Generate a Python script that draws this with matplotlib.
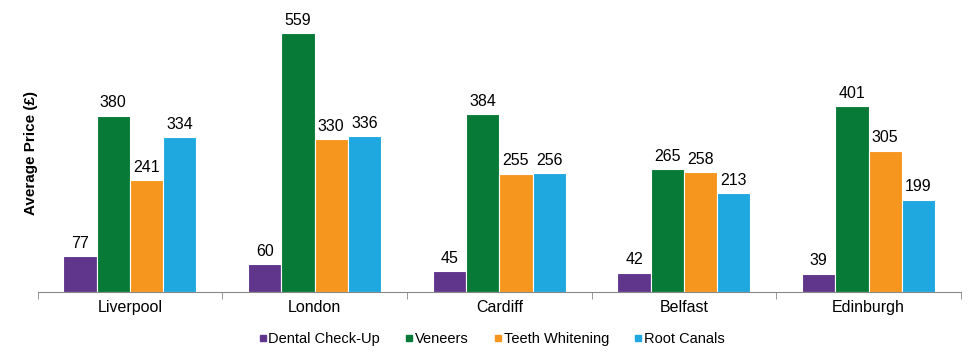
import matplotlib
matplotlib.use("Agg")
import matplotlib.pyplot as plt
import numpy as np
from matplotlib.lines import Line2D

plt.rcParams['font.family'] = ['Liberation Sans', 'DejaVu Sans']

cities = ["Liverpool", "London", "Cardiff", "Belfast", "Edinburgh"]
series_names = ["Dental Check-Up", "Veneers", "Teeth Whitening", "Root Canals"]
checkup = [77, 60, 45, 42, 39]
veneers = [380, 559, 384, 265, 401]
whitening = [241, 330, 255, 258, 305]
root_canals = [334, 336, 256, 213, 199]
colors = ["#60368C", "#077A38", "#F7961E", "#1FA8E0"]

data = [checkup, veneers, whitening, root_canals]

fig = plt.figure(figsize=(9.76, 3.6), dpi=100)
ax = fig.add_axes([0.0385, 0.1889, 0.9461, 0.772])

x = np.arange(len(cities))
w = 0.18
for i, (vals, c, name) in enumerate(zip(data, colors, series_names)):
    pos = x + (i - 1.5) * w
    bars = ax.bar(pos, vals, width=w, color=c, edgecolor="white", linewidth=0.8, label=name)
    for b, v in zip(bars, vals):
        ax.text(b.get_x() + b.get_width() / 2, v + 12, str(v), ha="center", va="bottom",
                fontsize=11.5, color="#000000")

ax.set_xlim(-0.5, len(cities) - 0.5)
ax.set_ylim(0, 600)
ax.set_yticks([])
for s in ["left", "right", "top"]:
    ax.spines[s].set_visible(False)
ax.spines["bottom"].set_color("#888888")
ax.set_xticks(x)
ax.set_xticklabels(cities, fontsize=11.5)
ax.tick_params(axis="x", length=0, pad=6)
ax.set_xticks(np.arange(-0.5, len(cities)), minor=True)
ax.tick_params(axis="x", which="minor", length=5, color="#888888", direction="out")
ax.set_ylabel("Average Price (£)", fontsize=11, fontweight="bold", labelpad=0)

handles = [Line2D([0], [0], marker="s", linestyle="", markersize=4.5, markerfacecolor=c,
                  markeredgecolor=c) for c in colors]
fig.legend(handles, series_names, loc="center", bbox_to_anchor=(0.503, 0.058), ncol=4,
           frameon=False, fontsize=10.5, handletextpad=0.0, columnspacing=1.6, handlelength=0.8)

fig.savefig("out.png", dpi=100)
